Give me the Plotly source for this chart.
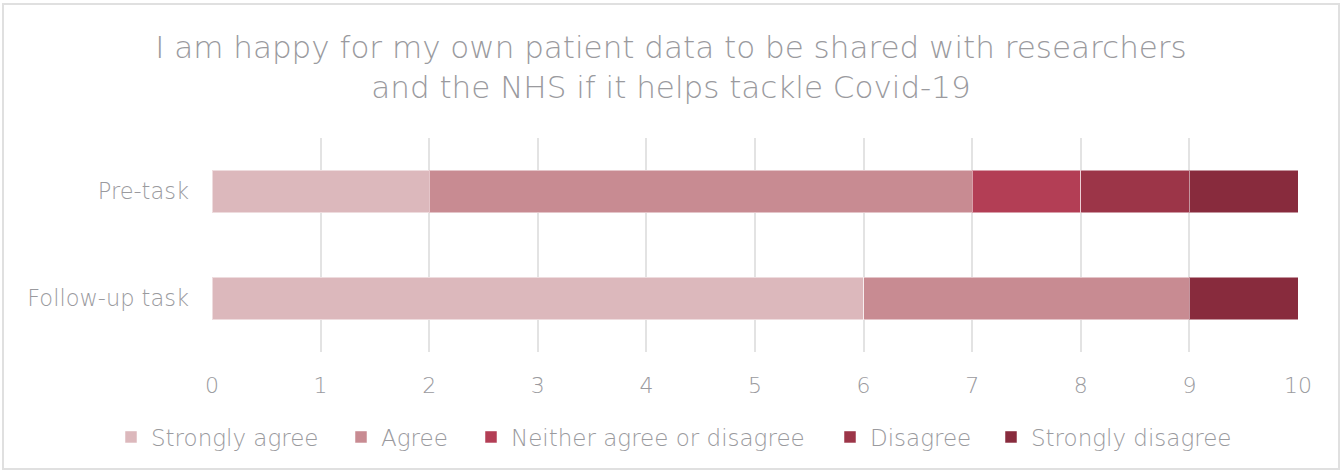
import plotly.graph_objects as go

categories = ["Pre-task", "Follow-up task"]
series_names = ["Strongly agree", "Agree", "Neither agree or disagree", "Disagree", "Strongly disagree"]
strongly_agree = [2, 6]
agree = [5, 3]
neither = [1, 0]
disagree = [1, 0]
strongly_disagree = [1, 1]
x_ticks = [0, 1, 2, 3, 4, 5, 6, 7, 8, 9, 10]

values = [strongly_agree, agree, neither, disagree, strongly_disagree]
colors = ["#DCB8BC", "#C88B92", "#B33E55", "#9C3548", "#882B3D"]
# pixel x where each legend entry's text begins
legend_text_x = [151, 381, 511, 870, 1031]

FONT = "DejaVu Sans, sans-serif"
TXT = "#9a9a9e"

W, H = 1342, 470
ml, mr, mt, mb = 212, 44, 138, 118
ph = H - mt - mb
pw = W - ml - mr

fig = go.Figure()
legend_layouts = {}
for i, (name, vals, col, tx) in enumerate(zip(series_names, values, colors, legend_text_x)):
    lname = "legend" if i == 0 else f"legend{i + 1}"
    fig.add_trace(go.Bar(
        y=categories, x=vals, name=name, orientation="h", legend=lname,
        marker=dict(color=col, line=dict(color="rgba(255,255,255,0.5)", width=1)),
    ))
    legend_layouts[lname] = dict(
        orientation="h", x=(tx - 40 - ml) / pw, xanchor="left",
        y=(0 - (437 - (H - mb))) / ph, yanchor="middle",
        font=dict(size=23, color=TXT, family=FONT, weight=200),
        itemwidth=30, bgcolor="rgba(0,0,0,0)",
    )

fig.update_layout(
    width=W, height=H,
    barmode="stack", bargap=0.6,
    margin=dict(l=ml, r=mr, t=mt, b=mb),
    paper_bgcolor="white", plot_bgcolor="white",
    font=dict(family=FONT, color=TXT, weight=200),
    title=dict(
        text="I am happy for my own patient data to be shared with researchers<br>and the NHS if it helps tackle Covid-19",
        x=0.5, xanchor="center", y=1 - 58 / H, yanchor="middle",
        font=dict(size=31, color=TXT, family=FONT, weight=200),
    ),
    xaxis=dict(
        range=[0, 10], tickvals=x_ticks, showgrid=True, gridcolor="#e3e3e3", gridwidth=2,
        zeroline=False, showline=False, ticks="",
        tickfont=dict(size=22, color=TXT, family=FONT, weight=200), ticklabelstandoff=18,
    ),
    yaxis=dict(
        categoryorder="array", categoryarray=categories, autorange="reversed",
        range=[1.5, -0.5],
        showgrid=False, zeroline=False, showline=False, ticks="",
        tickfont=dict(size=22.5, color=TXT, family=FONT, weight=200), ticklabelstandoff=22,
    ),
    showlegend=True,
    **legend_layouts,
)

# outer chart border
fig.add_shape(type="rect", xref="paper", yref="paper",
              x0=(3 - ml) / pw, x1=(W - 3 - ml) / pw,
              y0=(H - mb - (H - 1)) / ph, y1=(H - mb - 4) / ph,
              line=dict(color="#e0e0e0", width=2), fillcolor="rgba(0,0,0,0)", layer="below")

fig.write_html("out.html")
